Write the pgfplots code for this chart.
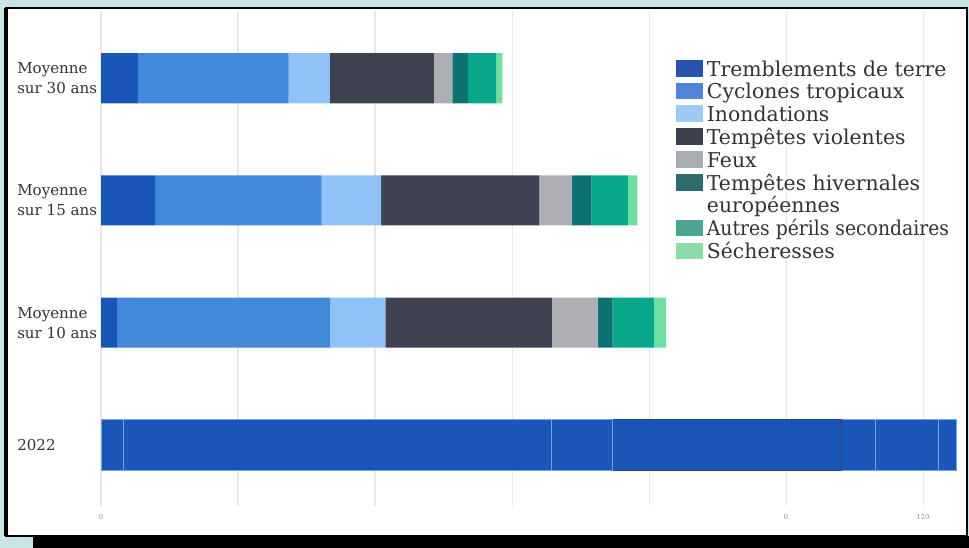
\documentclass[border=0pt]{standalone}
\usepackage{graphicx}
\usepackage{pgfplots}
\pgfplotsset{compat=1.18}
\usepackage{fontspec}
\setmainfont{DejaVu Serif}
\definecolor{tealbg}{HTML}{C8E6E4}
\definecolor{cEQ}{HTML}{1A56B8}
\definecolor{cCY}{HTML}{4289DC}
\definecolor{cFL}{HTML}{90C2F8}
\definecolor{cST}{HTML}{3F4250}
\definecolor{cFI}{HTML}{ADAFB4}
\definecolor{cWI}{HTML}{0F7272}
\definecolor{cOT}{HTML}{0AA88A}
\definecolor{cDR}{HTML}{6DE0A0}
\definecolor{lEQ}{HTML}{2A52B0}
\definecolor{lCY}{HTML}{4F86D9}
\definecolor{lFL}{HTML}{9FC8F7}
\definecolor{lST}{HTML}{3B3F4D}
\definecolor{lFI}{HTML}{A9ACB2}
\definecolor{lWI}{HTML}{2D6B6E}
\definecolor{lOT}{HTML}{4AA593}
\definecolor{lDR}{HTML}{8DDCA7}
\definecolor{sep}{HTML}{6FA8E0}
\definecolor{txt}{HTML}{333333}
\pgfplotsset{
  geom/.style={
    at={(75.75pt,-379.5pt)}, anchor=south west,
    scale only axis, width=644.8pt, height=371.25pt,
    xmin=0, xmax=125.5, ymin=-0.5, ymax=3.55,
    xbar stacked, bar width=0.41,
  },
  shortimg/.style={legend image code/.code={\path[fill=none,draw=none] (0pt,-5pt) rectangle (20pt,12pt);\fill[##1] (0pt,-0.5pt) rectangle (20pt,12pt);}},
  tallimg/.style={legend image code/.code={\path[fill=none,draw=none] (0pt,-22pt) rectangle (20pt,12pt);\fill[##1] (0pt,-0.5pt) rectangle (20pt,12pt);}},
}
\begin{document}
\begin{tikzpicture}
\begin{scope}[x=0.75pt,y=-0.75pt]
\fill[tealbg] (0,0) rectangle (969,548);
\fill[black] (33,536) rectangle (969,548);
\fill[white] (6,8) rectangle (967,536);
\draw[black, line width=1.6pt] (6,8) rectangle (967,536);
\fill[black] (4,8) rectangle (8,536);
\end{scope}
\begin{axis}[geom,
  axis line style={draw=none},
  major tick length=0pt,
  xtick={0,20,40,60,80,100,120},
  xticklabels={0,,,,,0,120},
  xmajorgrids, grid style={draw=black!9, line width=0.8pt},
  xticklabel style={font=\fontsize{5}{6}\selectfont, text=black!45, anchor=center, yshift=-8.25pt},
  ytick={0,1,2,3},
  yticklabels={2022,{Moyenne\\sur 10 ans},{Moyenne\\sur 15 ans},{Moyenne\\sur 30 ans}},
  yticklabel style={align=left, anchor=west, inner sep=0pt, xshift=-63pt,
    font=\fontsize{11.3}{15}\selectfont, text=txt},
  legend style={at={(0.6688,0.9014)}, anchor=north west, draw=none, fill=none,
    inner sep=0pt, row sep=0pt, column sep=3pt,
    font=\fontsize{15.3}{17}\selectfont, text=txt,
    nodes={anchor=base west, inner sep=0pt}},
  shortimg,
]
\addplot[fill=cEQ, draw=none, legend image post style={fill=lEQ}] coordinates {(2.3,1) (7.9,2) (5.4,3)};
\addplot[fill=cCY, draw=none, legend image post style={fill=lCY}] coordinates {(31.2,1) (24.3,2) (22.0,3)};
\addplot[fill=cFL, draw=none, legend image post style={fill=lFL}] coordinates {(8.0,1) (8.7,2) (6.0,3)};
\addplot[fill=cST, draw=none, legend image post style={fill=lST}] coordinates {(24.3,1) (23.1,2) (15.2,3)};
\addplot[fill=cFI, draw=none, legend image post style={fill=lFI}] coordinates {(6.7,1) (4.7,2) (2.7,3)};
\addplot[fill=cWI, draw=none, legend image post style={fill=lWI}, tallimg] coordinates {(2.2,1) (2.9,2) (2.3,3)};
\addplot[fill=cOT, draw=none, legend image post style={fill=lOT}] coordinates {(6.0,1) (5.3,2) (4.1,3)};
\addplot[fill=cDR, draw=none, legend image post style={fill=lDR}] coordinates {(1.8,1) (1.4,2) (0.9,3)};
\legend{Tremblements de terre, Cyclones tropicaux, Inondations, Tempêtes violentes, Feux, {\parbox[t]{210pt}{Tempêtes hivernales\\européennes}}, \scalebox{0.92}[1]{Autres périls secondaires}, Sécheresses}
\end{axis}
\begin{axis}[geom, hide axis]
\addplot[fill=cEQ, draw=sep, line width=0.6pt] coordinates {(3.3,0)};
\addplot[fill=cEQ, draw=sep, line width=0.6pt] coordinates {(62.5,0)};
\addplot[fill=cEQ, draw=sep, line width=0.6pt] coordinates {(8.9,0)};
\addplot[fill=cEQ, draw=cST!80!cEQ, line width=0.6pt] coordinates {(33.4,0)};
\addplot[fill=cEQ, draw=sep, line width=0.6pt] coordinates {(5.0,0)};
\addplot[fill=cEQ, draw=sep, line width=0.6pt] coordinates {(9.2,0)};
\addplot[fill=cEQ, draw=sep, line width=0.6pt] coordinates {(2.5,0)};
\addplot[fill=cEQ, draw=none] coordinates {(0.0,0)};
\end{axis}
\pgfresetboundingbox
\path[use as bounding box] (0pt,0pt) rectangle (726.75pt,-411pt);
\end{tikzpicture}
\end{document}
